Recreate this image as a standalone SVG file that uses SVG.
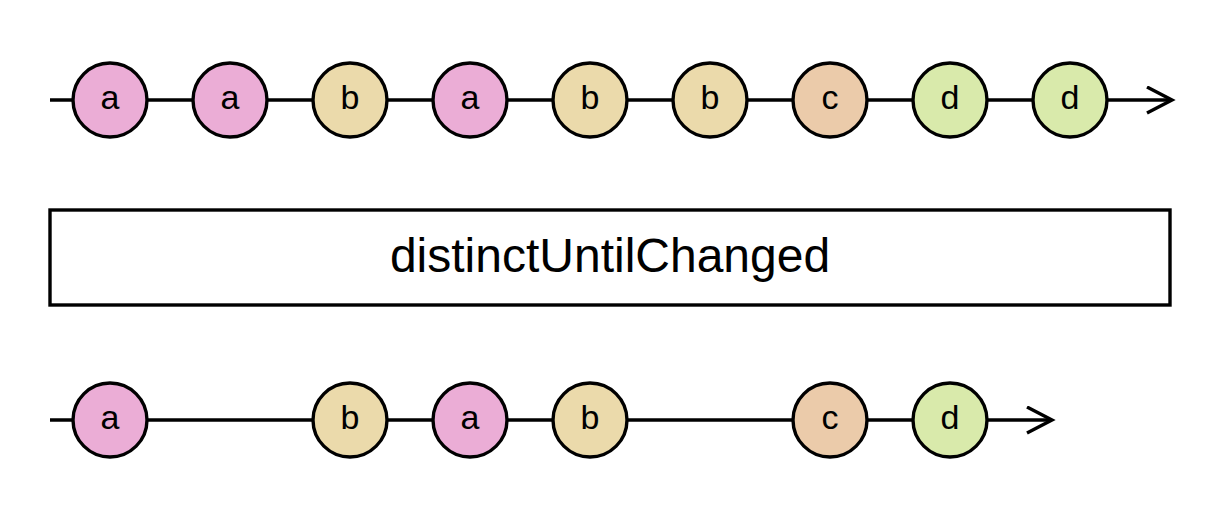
<svg xmlns="http://www.w3.org/2000/svg" width="1220" height="520" viewBox="0 0 1220 520">
<style>
.line{stroke:#000;stroke-width:3.4;fill:none}
.m circle{stroke:#000;stroke-width:3.4}
.m text{font-family:"Liberation Sans",Arial,sans-serif;font-size:34px;text-anchor:middle;fill:#000}
.a circle{fill:#ebadd6}
.b circle{fill:#ebdaab}
.c circle{fill:#ebcbaa}
.d circle{fill:#d9eaab}
.op rect{fill:#fff;stroke:#000;stroke-width:3.4}
.op text{font-family:"Liberation Sans",Arial,sans-serif;font-size:48px;text-anchor:middle;fill:#000}
</style>
<defs>
<marker id="arr" markerUnits="userSpaceOnUse" markerWidth="30" markerHeight="30" refX="26" refY="14" orient="auto" viewBox="0 0 30 30">
<path d="M1,1 L26,14 L1,27" fill="none" stroke="#000" stroke-width="3.4"/>
</marker>
</defs>
<g id="connectors">
<line class="line" x1="50" y1="100" x2="1172" y2="100" marker-end="url(#arr)"/>
<line class="line" x1="50" y1="420" x2="1052" y2="420" marker-end="url(#arr)"/>
</g>
<g id="in1" class="m a"><circle cx="110" cy="100" r="37"/><text x="110" y="108.5">a</text></g>
<g id="in2" class="m a"><circle cx="230" cy="100" r="37"/><text x="230" y="108.5">a</text></g>
<g id="in3" class="m b"><circle cx="350" cy="100" r="37"/><text x="350" y="108.5">b</text></g>
<g id="in4" class="m a"><circle cx="470" cy="100" r="37"/><text x="470" y="108.5">a</text></g>
<g id="in5" class="m b"><circle cx="590" cy="100" r="37"/><text x="590" y="108.5">b</text></g>
<g id="in6" class="m b"><circle cx="710" cy="100" r="37"/><text x="710" y="108.5">b</text></g>
<g id="in7" class="m c"><circle cx="830" cy="100" r="37"/><text x="830" y="108.5">c</text></g>
<g id="in8" class="m d"><circle cx="950" cy="100" r="37"/><text x="950" y="108.5">d</text></g>
<g id="in9" class="m d"><circle cx="1070" cy="100" r="37"/><text x="1070" y="108.5">d</text></g>
<g id="operator" class="op"><rect x="50" y="210" width="1120" height="95"/><text x="610" y="272">distinctUntilChanged</text></g>
<g id="out1" class="m a"><circle cx="110" cy="420" r="37"/><text x="110" y="428.5">a</text></g>
<g id="out2" class="m b"><circle cx="350" cy="420" r="37"/><text x="350" y="428.5">b</text></g>
<g id="out3" class="m a"><circle cx="470" cy="420" r="37"/><text x="470" y="428.5">a</text></g>
<g id="out4" class="m b"><circle cx="590" cy="420" r="37"/><text x="590" y="428.5">b</text></g>
<g id="out5" class="m c"><circle cx="830" cy="420" r="37"/><text x="830" y="428.5">c</text></g>
<g id="out6" class="m d"><circle cx="950" cy="420" r="37"/><text x="950" y="428.5">d</text></g>
</svg>
